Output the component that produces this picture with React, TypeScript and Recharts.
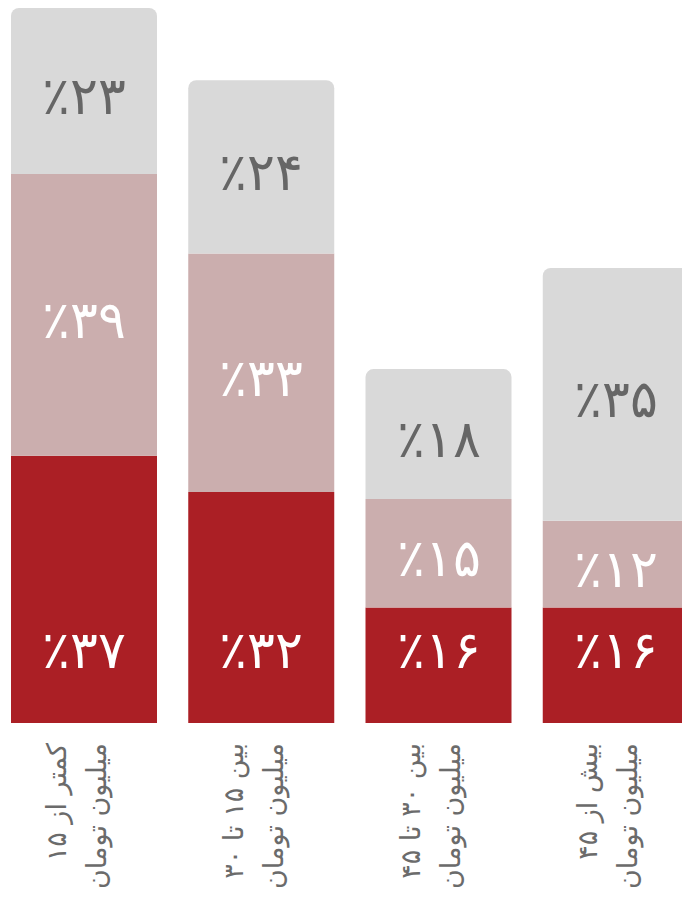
import { BarChart, Bar, XAxis, YAxis, LabelList } from 'recharts';

const categories = ['کمتر از ۱۵', 'بین ۱۵ تا ۳۰', 'بین ۳۰ تا ۴۵', 'بیش از ۴۵'];
const unitLine = 'میلیون تومان';
const low = [37, 32, 16, 16];
const mid = [39, 33, 15, 12];
const high = [23, 24, 18, 35];

const toFa = (n: number) => String(n).replace(/\d/g, (d) => '۰۱۲۳۴۵۶۷۸۹'[Number(d)]);

const data = categories.map((name, i) => ({ name, low: low[i], mid: mid[i], high: high[i] }));

const FONT = '"DejaVu Sans", sans-serif';

const makeLabel = (color: string, bottom: boolean) => (props: any) => {
  const { x, y, width, height, value } = props;
  const cy = bottom ? y + height - 73 : y + height / 2 + 5;
  return (
    <text
      x={x + width / 2}
      y={cy}
      fill={color}
      textAnchor="middle"
      dominantBaseline="central"
      fontFamily={FONT}
      fontSize={52}
      fontWeight={300}
      letterSpacing={5}
    >
      {'٪' + toFa(value)}
    </text>
  );
};

const Tick = (props: any) => {
  const { x, y, payload } = props;
  return (
    <g transform={`translate(${x}, ${y + 12}) rotate(-90)`}>
      <text x={0} y={-18} textAnchor="end" fill="#6b6b6b" fontFamily={FONT} fontSize={27}>
        {payload.value}
      </text>
      <text x={0} y={22} textAnchor="end" fill="#6b6b6b" fontFamily={FONT} fontSize={27}>
        {unitLine}
      </text>
    </g>
  );
};

export default function App() {
  return (
    <div style={{ position: 'fixed', left: 0, top: 0, width: 682, height: 905, overflow: 'hidden', background: '#fff' }}>
      <div style={{ marginLeft: -5 }}>
        <BarChart
          width={709}
          height={905}
          data={data}
          margin={{ top: 8, right: 0, bottom: 0, left: 0 }}
          barSize={146}
        >
          <XAxis dataKey="name" axisLine={false} tickLine={false} height={182} tick={<Tick />} interval={0} />
          <YAxis hide domain={[0, 99]} />
          <Bar dataKey="low" stackId="a" fill="#ab1f25" isAnimationActive={false}>
            <LabelList dataKey="low" content={makeLabel('#ffffff', true)} />
          </Bar>
          <Bar dataKey="mid" stackId="a" fill="#cbaeae" isAnimationActive={false}>
            <LabelList dataKey="mid" content={makeLabel('#ffffff', false)} />
          </Bar>
          <Bar dataKey="high" stackId="a" fill="#d9d9d9" radius={[8, 8, 0, 0]} isAnimationActive={false}>
            <LabelList dataKey="high" content={makeLabel('#666666', false)} />
          </Bar>
        </BarChart>
      </div>
    </div>
  );
}
